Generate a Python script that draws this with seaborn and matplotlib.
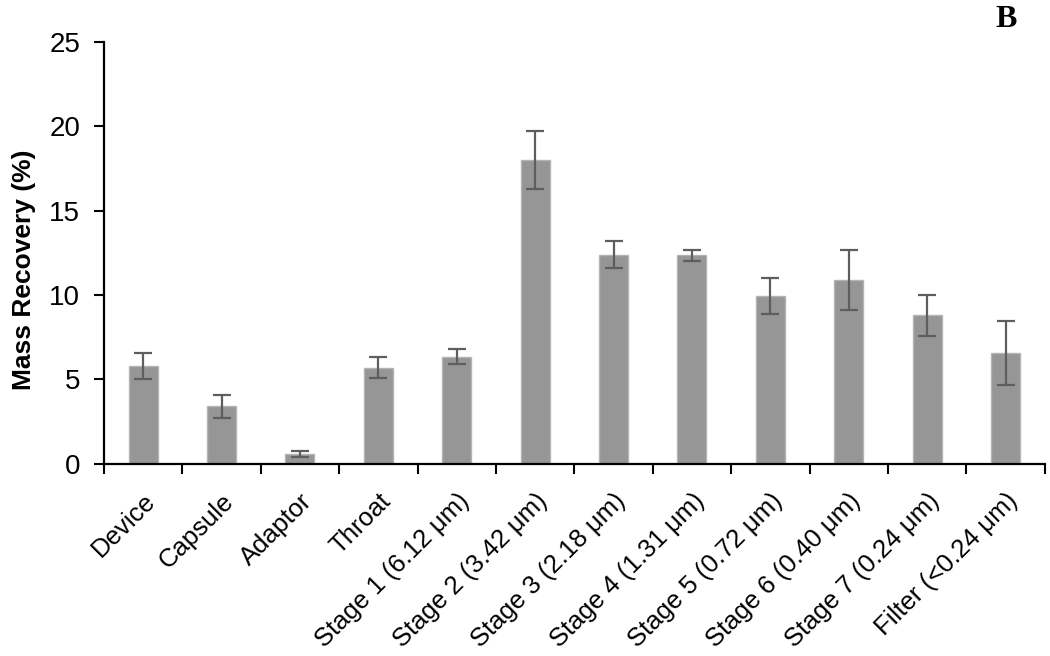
import matplotlib
matplotlib.use("Agg")
import matplotlib.pyplot as plt
import seaborn as sns
import numpy as np
import pandas as pd
from matplotlib.ticker import FixedLocator

categories = ["Device", "Capsule", "Adaptor", "Throat",
              "Stage 1 (6.12 μm)", "Stage 2 (3.42 μm)", "Stage 3 (2.18 μm)",
              "Stage 4 (1.31 μm)", "Stage 5 (0.72 μm)", "Stage 6 (0.40 μm)",
              "Stage 7 (0.24 μm)", "Filter (<0.24 μm)"]
recovery = [5.8, 3.4, 0.6, 5.7, 6.35, 18.0, 12.4, 12.35, 9.95, 10.9, 8.8, 6.55]
errors = [0.75, 0.7, 0.17, 0.6, 0.45, 1.7, 0.8, 0.35, 1.07, 1.8, 1.2, 1.9]
yticks = [0, 5, 10, 15, 20, 25]

sns.set_style("ticks")
plt.rcParams['font.family'] = ['Liberation Sans', 'DejaVu Sans']
plt.rcParams['text.color'] = 'black'
plt.rcParams['axes.labelcolor'] = 'black'
plt.rcParams['xtick.color'] = 'black'
plt.rcParams['ytick.color'] = 'black'

df = pd.DataFrame({"cat": categories, "val": recovery})

fig = plt.figure(figsize=(10.5, 6.56), dpi=100)
ax = fig.add_axes([0.099, 0.293, 0.896, 0.643])

sns.barplot(data=df, x="cat", y="val", ax=ax, color="#969696",
            width=0.37, edgecolor="#b4b4b4", linewidth=1.0, saturation=1)
ax.errorbar(np.arange(len(categories)), recovery, yerr=errors, fmt="none",
            ecolor="#5e5e5e", elinewidth=1.6, capsize=6.5, capthick=1.6)

ax.set_xlim(-0.5, len(categories) - 0.5)
ax.set_ylim(0, 25)
ax.set_yticks(yticks)
ax.set_yticklabels([str(t) for t in yticks], fontsize=20)
ax.set_ylabel("Mass Recovery (%)", fontsize=19, fontweight="bold")
ax.yaxis.set_label_coords(-0.072, 0.46)
ax.set_xlabel("")

ax.set_xticks(np.arange(len(categories)))
ax.set_xticklabels(categories, rotation=45, ha="right",
                   rotation_mode="anchor", fontsize=18.5)
ax.tick_params(axis="x", which="major", length=0, pad=18)
ax.xaxis.set_minor_locator(FixedLocator(np.arange(len(categories) + 1) - 0.5))
ax.tick_params(axis="x", which="minor", length=7, width=1.5, color="black",
               direction="out")
ax.tick_params(axis="y", length=7, width=1.5, color="black", direction="out",
               pad=10)

sns.despine(ax=ax)
for s in ["left", "bottom"]:
    ax.spines[s].set_linewidth(1.6)
    ax.spines[s].set_color("black")

fig.text(0.958, 0.971, "B", fontsize=23, fontweight="bold",
         family=["Liberation Serif", "DejaVu Serif"], ha="center", va="center")

fig.savefig("out.png", dpi=100)
